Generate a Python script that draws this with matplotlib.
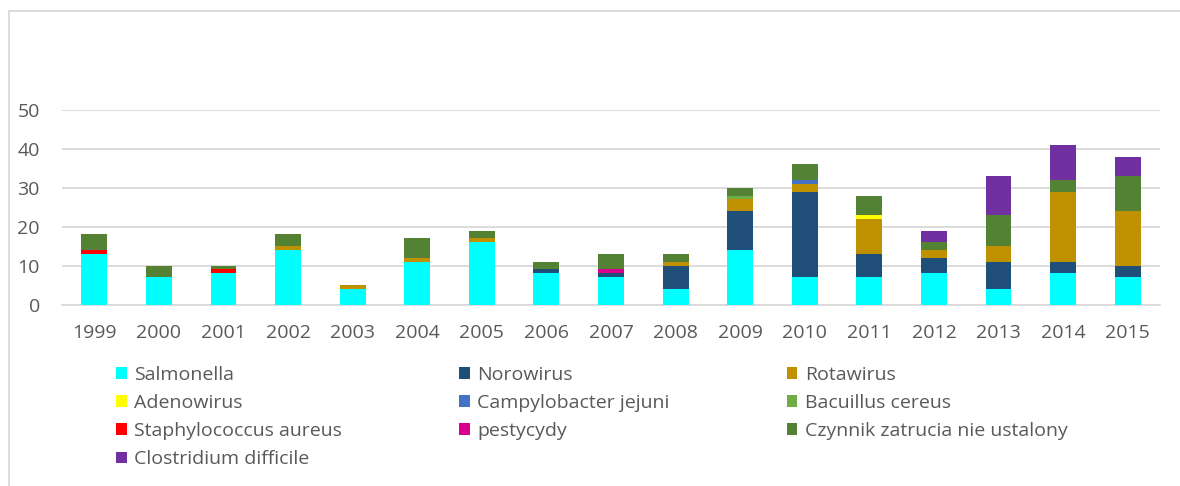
import matplotlib
matplotlib.use("Agg")
import matplotlib.pyplot as plt
from matplotlib.lines import Line2D
import numpy as np

years = ["1999", "2000", "2001", "2002", "2003", "2004", "2005", "2006", "2007",
         "2008", "2009", "2010", "2011", "2012", "2013", "2014", "2015"]

salmonella    = [13, 7, 8, 14, 4, 11, 16, 8, 7, 4, 14, 7, 7, 8, 4, 8, 7]
norowirus     = [0, 0, 0, 0, 0, 0, 0, 1, 1, 6, 10, 22, 6, 4, 7, 3, 3]
rotawirus     = [0, 0, 0, 1, 1, 1, 1, 0, 0, 1, 3, 2, 9, 2, 4, 18, 14]
adenowirus    = [0, 0, 0, 0, 0, 0, 0, 0, 0, 0, 0, 0, 1, 0, 0, 0, 0]
campylobacter = [0, 0, 0, 0, 0, 0, 0, 0, 0, 0, 0, 1, 0, 0, 0, 0, 0]
bacillus      = [0, 0, 0, 0, 0, 0, 0, 0, 0, 0, 1, 0, 0, 0, 0, 0, 0]
staphylococcus = [1, 0, 1, 0, 0, 0, 0, 0, 0, 0, 0, 0, 0, 0, 0, 0, 0]
pestycydy     = [0, 0, 0, 0, 0, 0, 0, 0, 1, 0, 0, 0, 0, 0, 0, 0, 0]
czynnik       = [4, 3, 1, 3, 0, 5, 2, 2, 4, 2, 2, 4, 5, 2, 8, 3, 9]
clostridium   = [0, 0, 0, 0, 0, 0, 0, 0, 0, 0, 0, 0, 0, 3, 10, 9, 5]

series_names = ["Salmonella", "Norowirus", "Rotawirus", "Adenowirus",
                "Campylobacter jejuni", "Bacuillus cereus", "Staphylococcus aureus",
                "pestycydy", "Czynnik zatrucia nie ustalony", "Clostridium difficile"]
series_values = [salmonella, norowirus, rotawirus, adenowirus, campylobacter,
                 bacillus, staphylococcus, pestycydy, czynnik, clostridium]
series_colors = ["#00FFFF", "#1F4E79", "#BF9000", "#FFFF00", "#4472C4",
                 "#70AD47", "#FF0000", "#D9008D", "#548235", "#7030A0"]

plt.rcParams['font.family'] = ['Open Sans', 'DejaVu Sans']
text_color = "#595959"
grid_color = "#D9D9D9"

W, H = 1180, 486
fig = plt.figure(figsize=(W / 100, H / 100), dpi=100)
ax = fig.add_axes([62 / W, (H - 304.5) / H, (1160 - 62) / W, (304.5 - 110) / H])

x = np.arange(len(years))
bottom = np.zeros(len(years))
handles = []
for name, vals, col in zip(series_names, series_values, series_colors):
    v = np.array(vals, dtype=float)
    b = ax.bar(x, v, width=0.40, bottom=bottom, color=col, label=name,
               edgecolor="none", zorder=3)
    handles.append(b)
    bottom += v

ax.set_xlim(-0.5, len(years) - 0.5)
ax.set_ylim(0, 50)
ax.set_yticks([0, 10, 20, 30, 40, 50])
ax.set_xticks(x)
ax.set_xticklabels(years)
ax.yaxis.grid(True, color=grid_color, linewidth=1.3, zorder=0)
ax.set_axisbelow(True)
for s in ["top", "right", "left"]:
    ax.spines[s].set_visible(False)
ax.spines["bottom"].set_color(grid_color)
ax.spines["bottom"].set_linewidth(1.3)
ax.tick_params(axis="y", length=0, pad=16, labelsize=14, labelcolor=text_color)
ax.tick_params(axis="x", length=0, pad=14, labelsize=14, labelcolor=text_color)

# legend filled row-wise (3 columns) like the original
ncol = 3
order = [i for c in range(ncol) for i in range(c, len(series_names), ncol)]
leg = fig.legend(handles=[handles[i] for i in order],
                 labels=[series_names[i] for i in order], ncol=ncol,
                 loc="upper left", bbox_to_anchor=(116 / W, 1 - 366 / H),
                 frameon=False, fontsize=14, labelcolor=text_color,
                 handlelength=0.55, handleheight=0.55, handletextpad=0.4,
                 columnspacing=6.0, labelspacing=0.52, borderpad=0,
                 borderaxespad=0)

# chart area border (top and left)
fig.add_artist(Line2D([9 / W, 9 / W], [0, 1 - 11 / H], color="#D9D9D9", lw=1.3,
                      transform=fig.transFigure))
fig.add_artist(Line2D([9 / W, 1], [1 - 11 / H, 1 - 11 / H], color="#D9D9D9", lw=1.3,
                      transform=fig.transFigure))

fig.savefig("out.png", dpi=100, facecolor="white")
